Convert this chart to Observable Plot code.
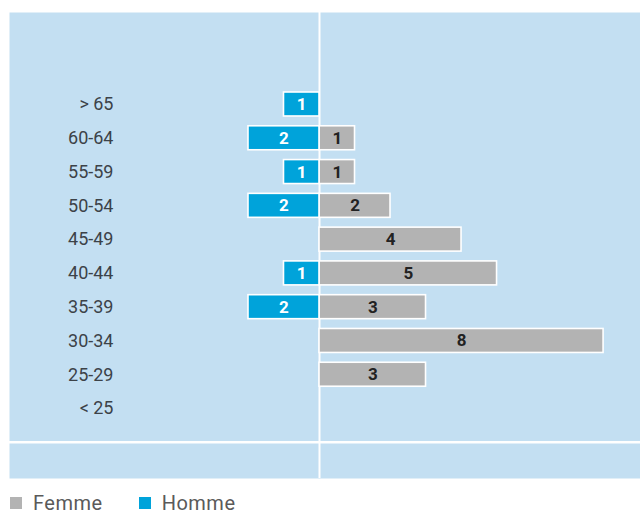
<!DOCTYPE html>
<html>
<head>
<meta charset="utf-8">
<script src="https://cdn.jsdelivr.net/npm/d3@7"></script>
<script src="https://cdn.jsdelivr.net/npm/@observablehq/plot@0.6"></script>
<style>
  html, body { margin: 0; padding: 0; background: #fff; }
  body { width: 640px; font-family: Roboto, sans-serif; }
  #chart svg { display: block; }
  .legend { display: flex; align-items: center; height: 20px; line-height: 20px; padding-left: 10px; margin-top: 13px;
            font-family: Roboto, sans-serif; font-size: 20px; color: #5a5a5a; letter-spacing: 0.5px; }
  .legend .item { display: flex; align-items: center; }
  .legend .item + .item { margin-left: 36px; }
  .legend .sw { width: 12px; height: 12px; margin-right: 11px; }
</style>
</head>
<body>
<div id="chart"></div>
<div class="legend" id="legend"></div>
<script>
// Age groups, top to bottom
const ages = ["> 65", "60-64", "55-59", "50-54", "45-49", "40-44", "35-39", "30-34", "25-29", "< 25"];
// Head counts per age group (0 = no bar)
const femme = [0, 1, 1, 2, 4, 5, 3, 8, 3, 0];
const homme = [1, 2, 1, 2, 0, 1, 2, 0, 0, 0];
const seriesNames = ["Femme", "Homme"];
const seriesColors = ["#b3b3b3", "#00a3da"];

// Extra slot below the last group carries the baseline rule
const baseSlot = "__base";

const rows = [];
ages.forEach((a, i) => {
  if (femme[i] > 0) rows.push({age: a, sex: "Femme", v: femme[i], x1: 0, x2: femme[i]});
  if (homme[i] > 0) rows.push({age: a, sex: "Homme", v: homme[i], x1: -homme[i], x2: 0});
});

const chart = Plot.plot({
  width: 640,
  height: 480,
  marginTop: 12,
  marginBottom: 2,
  marginLeft: 9,
  marginRight: 0,
  style: {background: "transparent", fontFamily: "Roboto, sans-serif"},
  x: {domain: [-8.73, 9.04], axis: null},
  y: {
    domain: [...ages, baseSlot],
    range: [87.1, 458.7],
    paddingInner: 0.29,
    paddingOuter: 0.145,
    align: 0.5,
    round: false,
    axis: null
  },
  color: {domain: seriesNames, range: seriesColors},
  marks: [
    Plot.frame({fill: "#c3dff2", stroke: null}),
    Plot.ruleX([0], {stroke: "white", strokeWidth: 2}),
    Plot.ruleY([baseSlot], {stroke: "white", strokeWidth: 2.5}),
    Plot.barX(rows, {
      y: "age", x1: "x1", x2: "x2", fill: "sex",
      stroke: "white", strokeWidth: 1.6
    }),
    Plot.text(rows, {
      y: "age", x: d => (d.x1 + d.x2) / 2, text: d => String(d.v),
      fill: d => d.sex === "Homme" ? "white" : "#222",
      fontWeight: "bold", fontSize: 17, fontFamily: "Roboto, sans-serif"
    }),
    Plot.axisY(ages, {
      anchor: "left", tickSize: 0, tickPadding: 0, label: null,
      dx: 104, textAnchor: "end",
      fontSize: 18, fill: "#3c4248", fontFamily: "Roboto, sans-serif",
      style: {letterSpacing: "0.8px"}
    })
  ]
});
document.getElementById("chart").appendChild(chart);

// Legend below the chart
const legend = document.getElementById("legend");
seriesNames.forEach((name, i) => {
  const item = document.createElement("div");
  item.className = "item";
  const sw = document.createElement("span");
  sw.className = "sw";
  sw.style.background = seriesColors[i];
  const label = document.createElement("span");
  label.textContent = name;
  item.appendChild(sw);
  item.appendChild(label);
  legend.appendChild(item);
});
</script>
</body>
</html>
